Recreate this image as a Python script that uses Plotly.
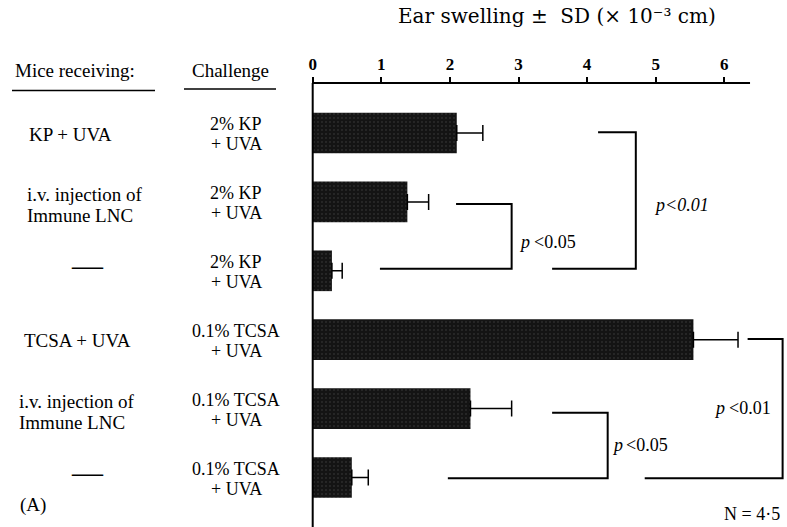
import plotly.graph_objects as go

# ---------------- data ----------------
mice_receiving = ["KP + UVA", "i.v. injection of<br>Immune LNC", "—",
                  "TCSA + UVA", "i.v. injection of<br>Immune LNC", "—"]
challenge = ["2% KP<br>+ UVA", "2% KP<br>+ UVA", "2% KP<br>+ UVA",
             "0.1% TCSA<br>+ UVA", "0.1% TCSA<br>+ UVA", "0.1% TCSA<br>+ UVA"]
swelling_mean = [2.10, 1.38, 0.28, 5.55, 2.30, 0.57]
swelling_sd = [0.38, 0.31, 0.15, 0.65, 0.60, 0.24]
tick_values = [0, 1, 2, 3, 4, 5, 6]
rows = list(range(len(swelling_mean)))

W, H = 787, 527
FONT = "Liberation Serif"
X0_PX, PX_PER_UNIT = 312.7, 68.6
Y0_PX, PX_PER_ROW = 133.0, 68.9

def px(x):
    return x / W

def py(y):
    return 1 - y / H

xr = [-X0_PX / PX_PER_UNIT, (W - X0_PX) / PX_PER_UNIT]
yr = [(H - Y0_PX) / PX_PER_ROW, -Y0_PX / PX_PER_ROW]
axis_row = (83 - Y0_PX) / PX_PER_ROW

fig = go.Figure()
fig.add_trace(go.Bar(
    x=swelling_mean, y=rows, orientation="h", width=0.59,
    marker=dict(color="#151515", line=dict(width=0),
                pattern=dict(shape=".", fgcolor="#6e6e6e", bgcolor="#141414",
                             size=4, solidity=0.1)),
    error_x=dict(type="data", array=swelling_sd,
                 arrayminus=[0] * len(swelling_sd), symmetric=False,
                 color="black", thickness=1.5, width=8),
    hoverinfo="x",
))

shapes = []
# axis lines
shapes.append(dict(type="line", xref="x", yref="y", x0=0, x1=6.375,
                   y0=axis_row, y1=axis_row, line=dict(color="black", width=2)))
shapes.append(dict(type="line", xref="x", yref="y", x0=0, x1=0,
                   y0=axis_row, y1=yr[0], line=dict(color="black", width=2)))
# header underlines
shapes.append(dict(type="line", xref="paper", yref="paper", x0=px(12), x1=px(155),
                   y0=py(90.5), y1=py(90.5), line=dict(color="black", width=1.5)))
shapes.append(dict(type="line", xref="paper", yref="paper", x0=px(184), x1=px(276),
                   y0=py(89), y1=py(89), line=dict(color="black", width=1.5)))

# significance brackets (x in data units, y in row units)
brackets = [
    ((2.09, 1.03), (2.90, 1.97), 0.98),
    ((4.16, -0.01), (4.71, 1.97), 3.49),
    ((3.49, 4.06), (4.30, 5.01), 1.97),
    ((6.34, 2.99), (6.85, 5.01), 4.84),
]
for (xs, yt), (xv, yb), xb in brackets:
    shapes.append(dict(type="path", xref="x", yref="y",
                       path=f"M {xs},{yt} L {xv},{yt} L {xv},{yb} L {xb},{yb}",
                       line=dict(color="black", width=2)))

ann = []
def text(x, y, s, size=19, xanchor="center", xref="paper", yref="paper",
         family=FONT, style="normal"):
    ann.append(dict(x=x, y=y, text=s, xref=xref, yref=yref, showarrow=False,
                    xanchor=xanchor, yanchor="middle",
                    font=dict(family=family, size=size, color="black", style=style)))

# title
text(px(557), py(16), "Ear swelling ±  SD (× 10⁻³ cm)", size=20,
     family="DejaVu Serif")
# headers
text(px(13), py(70), "Mice receiving:", xanchor="left")
text(px(230), py(70), "Challenge")

# row labels
mice_pos = [(70, "center"), (25, "left"), (87, "center"),
            (77, "center"), (17, "left"), (87, "center")]
for i in rows:
    yc = Y0_PX + PX_PER_ROW * i
    xm, anc = mice_pos[i]
    parts = mice_receiving[i].split("<br>")
    if parts[0] == "—":
        text(px(xm), py(yc - 5), "—", size=31)
    elif len(parts) == 1:
        text(px(xm), py(yc + 1), parts[0], xanchor=anc)
    else:
        for j, p in enumerate(parts):
            text(px(xm), py(yc - 7 + 21 * j), p, xanchor=anc)
    cparts = challenge[i].split("<br>")
    for j, p in enumerate(cparts):
        text(px(236), py(yc - 9 + 20 * j), p, size=18)

# p-values: italic "p" with upright comparison, except the top-right one
def pval(xc, yc, num, all_italic=False):
    if all_italic:
        text(xc, yc, "p<" + num, size=18, xref="x", yref="y", style="italic")
    else:
        text(xc - 0.37, yc, "p", size=18, xref="x", yref="y", style="italic")
        text(xc + 0.07, yc, "<" + num, size=18, xref="x", yref="y")

pval(3.46, 1.58, "0.05")
pval(5.37, 1.04, "0.01", all_italic=True)
pval(4.81, 4.53, "0.05")
pval(6.30, 3.99, "0.01")

text(px(18), py(505), "(A)", xanchor="left")
text(px(782), py(514), "N = 4·5", size=18, xanchor="right")

fig.update_layout(
    width=W, height=H, margin=dict(l=0, r=0, t=0, b=0),
    paper_bgcolor="white", plot_bgcolor="white", showlegend=False,
    shapes=shapes, annotations=ann,
    xaxis=dict(range=xr, domain=[0, 1], anchor="free", position=py(83),
               side="top", tickvals=tick_values, ticks="outside", ticklen=6,
               tickwidth=2, tickcolor="black", showline=False, showgrid=False,
               zeroline=False,
               tickfont=dict(family=FONT, size=17, color="black", weight="bold")),
    yaxis=dict(range=yr, domain=[0, 1], visible=False),
)

fig.write_html("out.html")
